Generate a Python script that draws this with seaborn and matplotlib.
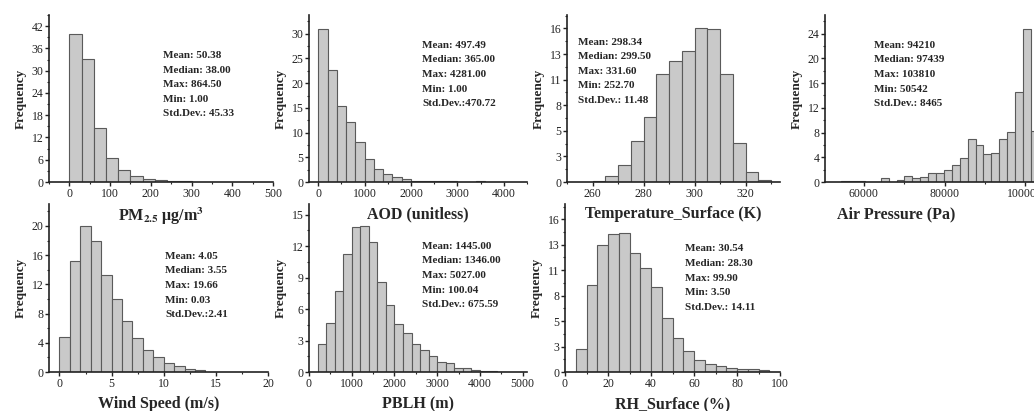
"""
Frequency histograms of the PM2.5 / meteorology variables (7 panels).
"""

import numpy as np
import pandas as pd
import matplotlib
matplotlib.use("Agg")
import matplotlib.pyplot as plt
from matplotlib.ticker import AutoMinorLocator, FixedLocator, FixedFormatter
import seaborn as sns

sns.set_style("ticks")
plt.rcParams["font.family"] = ["Liberation Serif", "DejaVu Serif"]
plt.rcParams["mathtext.fontset"] = "stix"

BAR_FILL = "#c9c9c9"
BAR_EDGE = "#5a5a5a"

# ──────────────────────────────────────────────────────────
#  Data (frequency in %)
# ──────────────────────────────────────────────────────────
pm25_start, pm25_width = 0, 30
pm25_freq = [39.9, 33.2, 14.6, 6.4, 3.1, 1.7, 0.9, 0.5, 0.35, 0.2]
pm25_stats = ["Mean: 50.38", "Median: 38.00", "Max: 864.50", "Min: 1.00", "Std.Dev.: 45.33"]

aod_start, aod_width = 0, 200
aod_freq = [31.0, 22.6, 15.3, 12.2, 8.1, 4.7, 2.7, 1.6, 1.0, 0.6,
            0.3, 0.2, 0.15, 0.12, 0.25, 0.08, 0.05, 0.18, 0.03, 0.02]
aod_stats = ["Mean: 497.49", "Median: 365.00", "Max: 4281.00", "Min: 1.00", "Std.Dev.:470.72"]

temp_start, temp_width = 260, 5
temp_freq = [0.1, 0.6, 1.8, 4.3, 6.75, 11.3, 12.56, 13.67, 16.0, 15.9, 11.3, 4.1, 1.0, 0.2]
temp_stats = ["Mean: 298.34", "Median: 299.50", "Max: 331.60", "Min: 252.70", "Std.Dev.: 11.48"]

pres_start, pres_width = 54435, 1955
pres_freq = [0.15, 0.2, 0.1, 0.05, 0.0, 0.7, 0.05, 0.4, 0.9, 0.6, 0.8, 1.5, 1.4,
             1.9, 2.8, 3.9, 6.9, 6.0, 4.5, 4.7, 6.9, 8.1, 14.5, 24.8, 8.3]
pres_stats = ["Mean: 94210", "Median: 97439", "Max: 103810", "Min: 50542", "Std.Dev.: 8465"]

wind_start, wind_width = 0, 1
wind_freq = [4.76, 15.2, 20.0, 18.0, 13.3, 10.0, 7.05, 4.6, 3.07, 2.06, 1.24, 0.78, 0.4, 0.25]
wind_stats = ["Mean: 4.05", "Median: 3.55", "Max: 19.66", "Min: 0.03", "Std.Dev.:2.41"]

pblh_start, pblh_width = 200, 200
pblh_freq = [2.7, 4.7, 7.7, 11.2, 13.85, 13.95, 12.4, 8.6, 6.4, 4.6, 3.7,
             2.7, 2.1, 1.5, 1.0, 0.9, 0.35, 0.4, 0.15, 0.1, 0.05, 0.03]
pblh_stats = ["Mean: 1445.00", "Median: 1346.00", "Max: 5027.00", "Min: 100.04", "Std.Dev.: 675.59"]

rh_start, rh_width = 5, 5
rh_freq = [2.4, 9.08, 13.3, 14.5, 14.56, 12.47, 10.9, 8.94, 5.65, 3.6,
           2.16, 1.3, 0.88, 0.6, 0.46, 0.35, 0.28, 0.25]
rh_stats = ["Mean: 30.54", "Median: 28.30", "Max: 99.90", "Min: 3.50", "Std.Dev.: 14.11"]

xlabels = [r"PM$_{\mathbf{2.5}}$ μg/m$^{\mathbf{3}}$", "AOD (unitless)",
           "Temperature_Surface (K)", "Air Pressure (Pa)",
           "Wind Speed (m/s)", "PBLH (m)", "RH_Surface (%)"]

# ──────────────────────────────────────────────────────────
#  Layout (pixel boxes of each axes in the 1034x411 canvas)
# ──────────────────────────────────────────────────────────
W, H = 1034, 411
panels = [
    # start, width, freq, stats, (left, right, top, bottom px), xlim, ylim, xticks, yticks, text pos, xlabel x
    (pm25_start, pm25_width, pm25_freq, pm25_stats, (49, 273, 15, 182), (-50, 500), (0, 45),
     np.arange(0, 501, 100), np.arange(0, 43, 6), (0.51, 0.785), 0.5),
    (aod_start, aod_width, aod_freq, aod_stats, (309, 527, 15, 182), (-200, 4500), (0, 33.8),
     np.arange(0, 4001, 1000), np.arange(0, 31, 5), (0.52, 0.845), 0.5),
    (temp_start, temp_width, temp_freq, temp_stats, (567, 780, 15, 182), (250, 333.5), (0, 17.4),
     np.arange(260, 321, 20), np.linspace(0, 16, 7), (0.05, 0.865), 0.5),
    (pres_start, pres_width, pres_freq, pres_stats, (825, 1048, 15, 182), (50400, 105600), (0, 27),
     np.arange(60000, 100001, 20000), np.arange(0, 25, 4), (0.22, 0.845), 0.32),
    (wind_start, wind_width, wind_freq, wind_stats, (49, 268, 204, 372), (-1, 20), (0, 23),
     np.arange(0, 21, 5), np.arange(0, 21, 4), (0.53, 0.715), 0.5),
    (pblh_start, pblh_width, pblh_freq, pblh_stats, (309, 527, 204, 372), (0, 5100), (0, 16),
     np.arange(0, 5001, 1000), np.arange(0, 16, 3), (0.52, 0.775), 0.5),
    (rh_start, rh_width, rh_freq, rh_stats, (565, 780, 204, 372), (0, 100), (0, 17.6),
     np.arange(0, 101, 20), np.linspace(0, 16, 7), (0.557, 0.76), 0.5),
]

fig = plt.figure(figsize=(W / 100, H / 100), dpi=100)

for (start, width, freq, stats, box, xlim, ylim, xt, yt, tpos, lx), label in zip(panels, xlabels):
    left, right, top, bottom = box
    ax = fig.add_axes([left / W, 1 - bottom / H, (right - left) / W, (bottom - top) / H])
    ax.patch.set_alpha(0)   # top-row x labels sit inside the bottom-row boxes
    w_px, h_px = right - left, bottom - top

    edges = start + width * np.arange(len(freq) + 1)
    df = pd.DataFrame({"x": edges[:-1] + width / 2, "w": freq})
    sns.histplot(data=df, x="x", weights="w", bins=list(edges), ax=ax, color=BAR_FILL,
                 edgecolor=BAR_EDGE, linewidth=0.8, alpha=1.0)

    ax.set_xlim(*xlim)
    ax.set_ylim(*ylim)
    ax.xaxis.set_major_locator(FixedLocator(xt))
    ax.yaxis.set_major_locator(FixedLocator(yt))
    ax.yaxis.set_major_formatter(FixedFormatter([f"{v:.0f}" for v in yt]))
    ax.xaxis.set_minor_locator(AutoMinorLocator(2))
    ax.yaxis.set_minor_locator(AutoMinorLocator(2))

    sns.despine(ax=ax)
    for s in ("left", "bottom"):
        ax.spines[s].set_linewidth(1.2)
        ax.spines[s].set_color("#222222")
    ax.tick_params(which="major", direction="out", length=3, width=1, pad=1,
                   labelsize=8.5, colors="#222222")
    ax.tick_params(which="minor", direction="out", length=1.5, width=0.8)

    ax.set_ylabel("Frequency", fontsize=9.5, fontweight="bold")
    ax.yaxis.set_label_coords(-22 / w_px, 0.5)
    ax.set_xlabel(label, fontsize=11.5, fontweight="bold")
    ax.xaxis.set_label_coords(lx, -24 / h_px)

    ax.text(tpos[0], tpos[1], "\n".join(stats), transform=ax.transAxes,
            ha="left", va="top", fontsize=8, fontweight="bold", linespacing=1.8)

fig.savefig("out.png", dpi=100)
plt.close(fig)
